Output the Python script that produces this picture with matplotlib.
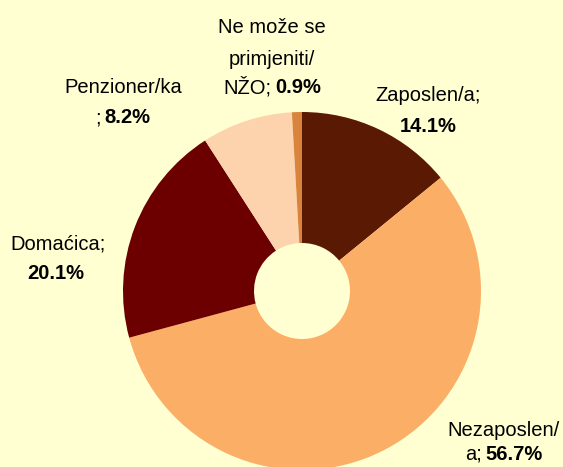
import numpy as np
import matplotlib
matplotlib.use("Agg")
from matplotlib import pyplot as plt

# data
labels = ["Zaposlen/a", "Nezaposlen/a", "Domaćica", "Penzioner/ka", "Ne može se primjeniti/NŽO"]
shares = [14.1, 56.7, 20.1, 8.2, 0.9]
colors = ["#5A1902", "#FBAE66", "#6C0000", "#FDD3AD", "#D9843C"]

# label lines: (center x, baseline y in pixels from top, [(text, bold), ...])
labelLines = [
    (272, 33, [("Ne može se", False)]),
    (272, 65, [("primjeniti/", False)]),
    (272, 93, [("NŽO;", False), ("0.9%", True)]),
    (123, 93, [("Penzioner/ka", False)]),
    (123, 123, [(";", False), ("8.2%", True)]),
    (428, 101, [("Zaposlen/a;", False)]),
    (428, 132, [("14.1%", True)]),
    (58, 250, [("Domaćica;", False)]),
    (56, 279, [("20.1%", True)]),
    (505, 436, [("Nezaposlen/", False)]),
    (504, 460, [("a;", False), ("56.7%", True)]),
]

W, H = 563, 467
bg = "#FFFFD1"
fontFam = ["Liberation Sans", "DejaVu Sans"]
fSize = 14.5

fig = plt.figure(figsize=(W/100, H/100), dpi=100)
fig.patch.set_facecolor(bg)
ax = fig.add_axes([0, 0, 1, 1])
ax.set_facecolor(bg)

cx, cy, R, hole = 302, 291, 179, 48
ax.pie(shares, colors=colors, startangle=90, counterclock=False,
       radius=R, center=(cx, H-cy),
       wedgeprops=dict(width=R-hole, linewidth=0))
ax.set_xlim(0, W)
ax.set_ylim(0, H)
ax.set_aspect("auto")
ax.axis("off")

renderer = fig.canvas.get_renderer()
gap = 4
for x, y, parts in labelLines:
    texts = []
    for s, b in parts:
        t = ax.text(0, H-y, s, fontsize=fSize, family=fontFam,
                    fontweight="bold" if b else "normal",
                    ha="left", va="baseline", color="black")
        texts.append(t)
    widths = [t.get_window_extent(renderer).width for t in texts]
    total = sum(widths) + gap*(len(widths)-1)
    pos = x - total/2
    # keep the line inside the picture
    pos = min(pos, W - 3 - total)
    pos = max(pos, 3)
    for t, w in zip(texts, widths):
        t.set_x(pos)
        pos += w + gap

fig.savefig("out.png", dpi=100, facecolor=bg)
